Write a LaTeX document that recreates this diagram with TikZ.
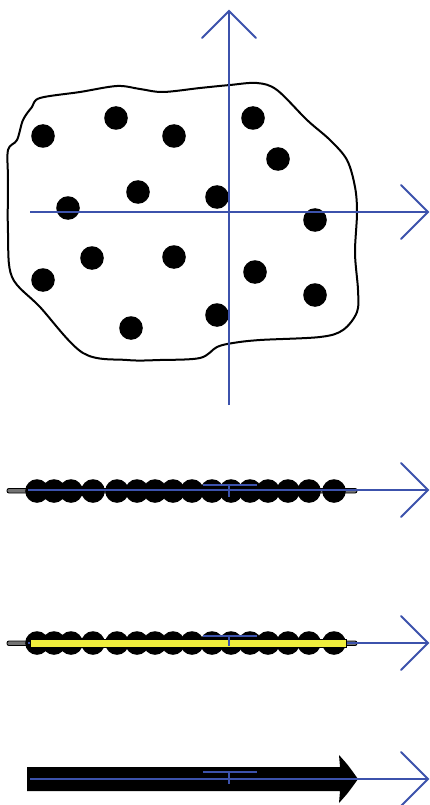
\documentclass[tikz,border=0pt]{standalone}
\usetikzlibrary{calc}
\begin{document}
\begin{tikzpicture}[x=1pt,y=-1pt,
  axis/.style={draw={rgb,255:red,60;green,82;blue,172},line width=1.8pt},
  tipline/.style={draw={rgb,255:red,60;green,82;blue,172},line width=1.8pt,line cap=round,line join=miter},
  blob/.style={draw=black,line width=2pt},
  dot/.style={fill=black},
  band/.style={fill={rgb,255:red,240;green,238;blue,60},draw=black,line width=0.8pt},
  flat/.style={draw=black,line width=0.9pt,fill=black!55,rounded corners=2pt}]
\useasboundingbox (0,0) rectangle (430,805);
\fill[white] (0,0) rectangle (430,805);

% ---------- top panel ----------
\draw[blob] plot[smooth cycle,tension=0.55] coordinates {
 (32,107) (40,98) (80,92) (117,86) (140,89) (163,92) (200,88) (230,85) (257,83)
 (277,90) (307,120) (330,140) (347,160) (355,187) (357,213) (355,253) (358,290)
 (357,312) (343,330) (320,337) (260,340) (233,343) (217,347) (200,358) (160,360)
 (127,360) (83,353) (40,307) (12,277) (8,233) (8,180) (8,150) (17,140) (23,120)};

\foreach \x/\y in {43/136,116/118,174/136,253/118,278/159,138/192,217/197,68/208,
  315/220,92/258,174/257,43/280,255/272,315/295,131/328,217/315}
  \fill[dot] (\x,\y) circle (11.8);

\coordinate (vb) at (229,405);
\coordinate (vt) at (229,11);
\coordinate (hl) at (30,212);
\coordinate (hr) at (428,212);
\draw[axis] (vb) -- (vt);
\draw[tipline] ($(vt)+(-27,27)$) -- (vt) -- ($(vt)+(27,27)$);
\draw[axis] (hl) -- (hr);
\draw[tipline] ($(hr)+(-27,-27)$) -- (hr) -- ($(hr)+(-27,27)$);

% ---------- row 1 ----------
\draw[flat] (7,488.5) rectangle (357,493);
\foreach \x in {37,54,71,93,117,137,155,173,192,212,231,250,268,288,309,334}
  \fill[dot] (\x,491) circle (11.8);
\coordinate (a1) at (28,490);
\coordinate (b1) at (428,490);
\draw[axis,line width=1.3pt] (a1) -- (b1);
\draw[tipline] ($(b1)+(-27,-27)$) -- (b1) -- ($(b1)+(-27,27)$);
\draw[axis,line width=1.2pt] (203,485) -- (257,485) (229,485) -- (229,497);

% ---------- row 2 ----------
\draw[flat] (7,641) rectangle (357,645.5);
\foreach \x in {37,54,71,93,117,137,155,173,192,212,231,250,268,288,309,334}
  \fill[dot] (\x,643) circle (11.8);
\coordinate (a2) at (28,643);
\coordinate (b2) at (428,643);
\draw[axis,line width=1.3pt] (a2) -- (b2);
\draw[band] (30,639) rectangle (346,647.5);
\draw[tipline] ($(b2)+(-27,-27)$) -- (b2) -- ($(b2)+(-27,27)$);
\draw[axis,line width=1.2pt] (203,636) -- (257,636) (229,636) -- (229,646);

% ---------- row 3 ----------
\fill[black] (27,767) -- (340,767) -- (339,755) .. controls (348,765) .. (358,779)
  .. controls (348,793) .. (339,803) -- (340,791) -- (27,791) -- cycle;
\coordinate (a3) at (30,779);
\coordinate (b3) at (428,779);
\draw[axis,line width=1.6pt] (a3) -- (b3);
\draw[tipline] ($(b3)+(-27,-27)$) -- (b3) -- ($(b3)+(-27,27)$);
\draw[axis,line width=1.2pt] (203,772) -- (257,772) (229,772) -- (229,784);
\end{tikzpicture}
\end{document}
